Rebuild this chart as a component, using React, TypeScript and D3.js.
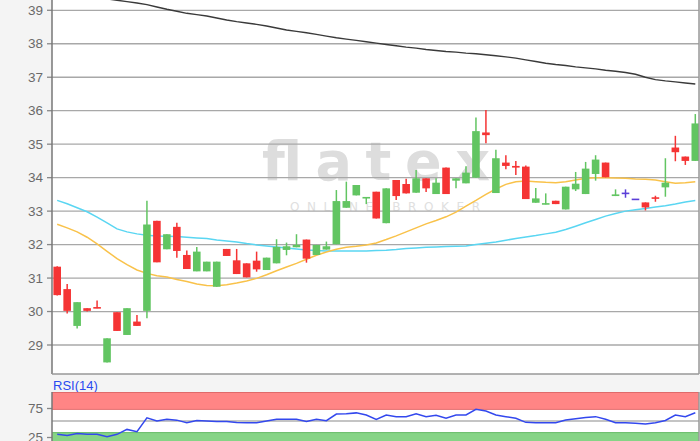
import React from 'react';
import * as d3 from 'd3';

// ---- Data ----
const opens = [31.34, 30.67, 29.57, 30.10, 30.12, 28.48, 29.98, 29.30, 29.70, 30.02,
  32.71, 31.86, 32.53, 31.69, 31.20, 31.20, 30.74, 31.87, 31.53, 31.44,
  31.52, 31.24, 31.44, 31.84, 31.92, 32.15, 31.69, 31.85, 32.01, 33.10,
  33.47, 33.38, 33.58, 32.64, 33.93, 33.81, 33.55, 33.98, 33.51, 34.30,
  33.91, 33.83, 34.00, 35.35, 33.54, 34.45, 34.35, 34.33, 33.25, 33.20,
  33.31, 33.05, 33.65, 33.51, 34.11, 34.45, 33.45, 33.53, 33.35, 33.26,
  33.40, 33.71, 34.90, 34.63, 34.50];
const highs = [31.35, 30.82, 30.28, 30.10, 30.33, 29.20, 29.98, 30.10, 29.90, 33.31,
  32.71, 32.31, 32.65, 31.82, 31.93, 31.49, 31.49, 31.87, 31.87, 31.44,
  31.79, 31.61, 32.16, 32.06, 32.31, 32.15, 31.99, 32.09, 33.63, 33.88,
  33.78, 33.42, 33.58, 33.68, 33.93, 33.97, 34.23, 33.98, 33.98, 34.30,
  33.98, 34.34, 35.80, 36.02, 34.83, 34.67, 34.50, 34.36, 33.69, 33.53,
  33.31, 33.73, 34.17, 34.47, 34.67, 34.45, 33.65, 33.65, 33.35, 33.26,
  33.46, 34.58, 35.25, 34.63, 35.90];
const lows = [30.48, 29.94, 29.49, 30.00, 30.10, 28.48, 29.42, 29.30, 29.57, 29.80,
  31.47, 31.86, 31.61, 31.27, 31.20, 31.20, 30.74, 31.66, 31.12, 31.02,
  31.19, 31.24, 31.44, 31.68, 31.92, 31.46, 31.69, 31.85, 32.01, 33.10,
  33.47, 33.21, 32.78, 32.64, 33.33, 33.53, 33.55, 33.57, 33.51, 33.51,
  33.68, 33.83, 34.00, 35.03, 33.54, 34.25, 34.08, 33.36, 33.25, 33.20,
  33.21, 33.05, 33.60, 33.51, 33.91, 34.01, 33.45, 33.40, 33.35, 33.02,
  33.28, 33.43, 34.49, 34.38, 34.50];
const closes = [30.49, 30.02, 30.28, 30.02, 30.10, 29.20, 29.42, 30.10, 29.57, 32.60,
  31.47, 32.31, 31.81, 31.27, 31.79, 31.49, 31.49, 31.66, 31.12, 31.02,
  31.26, 31.61, 31.93, 31.95, 31.99, 31.58, 31.99, 31.95, 33.30, 33.30,
  33.78, 33.42, 32.78, 33.68, 33.45, 33.53, 33.98, 33.68, 33.85, 33.51,
  33.98, 34.15, 35.39, 35.27, 34.58, 34.35, 34.30, 33.36, 33.38, 33.23,
  33.21, 33.73, 33.82, 34.27, 34.54, 34.01, 33.50, 33.53, 33.35, 33.11,
  33.38, 33.85, 34.76, 34.50, 35.62];

// cyan moving average
const maCyan = [33.32, 33.22, 33.10, 32.98, 32.82, 32.65, 32.47, 32.38, 32.32, 32.28,
  32.26, 32.25, 32.24, 32.22, 32.20, 32.18, 32.14, 32.11, 32.08, 32.03,
  31.99, 31.96, 31.93, 31.90, 31.87, 31.84, 31.82, 31.81, 31.81, 31.81,
  31.81, 31.81, 31.82, 31.83, 31.85, 31.88, 31.90, 31.92, 31.93, 31.94,
  31.95, 31.96, 32.00, 32.04, 32.08, 32.13, 32.18, 32.23, 32.27, 32.32,
  32.37, 32.45, 32.55, 32.65, 32.75, 32.85, 32.93, 33.00, 33.04, 33.08,
  33.12, 33.16, 33.21, 33.27, 33.32];
// orange moving average
const maOrange = [32.61, 32.50, 32.38, 32.22, 32.02, 31.80, 31.58, 31.40, 31.24, 31.14,
  31.07, 31.03, 30.96, 30.90, 30.82, 30.78, 30.77, 30.80, 30.85, 30.91,
  30.99, 31.10, 31.22, 31.33, 31.44, 31.56, 31.68, 31.78, 31.86, 31.92,
  31.95, 31.99, 32.05, 32.15, 32.26, 32.38, 32.50, 32.62, 32.72, 32.83,
  32.97, 33.15, 33.32, 33.50, 33.66, 33.80, 33.88, 33.90, 33.88, 33.86,
  33.85, 33.88, 33.93, 33.98, 34.00, 34.00, 33.99, 33.98, 33.96, 33.95,
  33.93, 33.88, 33.83, 33.85, 33.88];
// black long moving average, starts at index 4 (earlier part is above the visible range)
const maBlackStart = 4;
const maBlack = [39.38, 39.34, 39.30, 39.26, 39.22, 39.17,
  39.10, 39.03, 38.97, 38.91, 38.87, 38.83, 38.77, 38.71, 38.66, 38.62,
  38.58, 38.53, 38.47, 38.41, 38.37, 38.33, 38.28, 38.23, 38.18, 38.14,
  38.10, 38.06, 38.02, 37.98, 37.94, 37.90, 37.87, 37.83, 37.80, 37.77,
  37.75, 37.72, 37.70, 37.67, 37.64, 37.61, 37.57, 37.52, 37.47, 37.42,
  37.38, 37.35, 37.31, 37.28, 37.25, 37.21, 37.18, 37.14, 37.09, 37.00,
  36.93, 36.89, 36.86, 36.83, 36.80];
// RSI(14)
const rsi = [27, 25, 28.5, 27, 27, 23, 27, 35.5, 31.5, 55.5,
  50, 53, 51.5, 47, 51, 50, 49, 49, 47.5, 47,
  47, 50, 53, 53, 53, 49, 53, 50.5, 62, 62.5,
  64, 60.3, 52.9, 60.3, 57.5, 57.5, 62.6, 57.5, 59.8, 54.6,
  60.3, 60.3, 70.1, 67.2, 60.3, 57.5, 54.6, 47.7, 47, 47,
  47, 51.7, 54, 56, 57.5, 52.9, 47, 47, 46, 44.8,
  47, 51, 60.3, 57.5, 64.3];

const priceTicks = [29, 30, 31, 32, 33, 34, 35, 36, 37, 38, 39];
const rsiTicks = [25, 75];
const rsiLabel = 'RSI(14)';
const watermark = 'flatex';
const watermarkSub = 'ONLINE BROKER';

// ---- Layout ----
const W = 700;
const H = 441;
const left = 52;
const right = 699;
const mainBottom = 374;
const rsiTop = 392;
const font = '"Liberation Sans", Arial, sans-serif';

const GREEN = '#62c562';
const RED = '#f53434';
const PURPLE = '#5b3fd8';

export default function App() {
  const x = d3.scaleLinear().domain([0, 64]).range([57.2, 695.3]);
  const y = d3.scaleLinear().domain([29, 39]).range([345, 10.3]);
  const ry = d3.scaleLinear().domain([0, 100]).range([450, 392]);
  const bw = 7.6;

  const lineMain = d3.line<number>().x((_, i) => x(i)).y((d) => y(d));
  const lineBlack = d3.line<number>().x((_, i) => x(i + maBlackStart)).y((d) => y(d));
  const lineRsi = d3.line<number>().x((_, i) => x(i)).y((d) => ry(d));

  return (
    <svg width={W} height={H} style={{ position: 'absolute', left: 0, top: 0, display: 'block' }}
      xmlns="http://www.w3.org/2000/svg">
      <defs>
        <clipPath id="mainClip">
          <rect x={left} y={0} width={right - left} height={mainBottom} />
        </clipPath>
        <clipPath id="rsiClip">
          <rect x={left} y={rsiTop} width={right - left} height={H - rsiTop} />
        </clipPath>
      </defs>
      <rect x={0} y={0} width={W} height={H} fill="#f4f4f4" />
      {/* main plot background */}
      <rect x={left} y={0} width={right - left} height={mainBottom} fill="#ffffff" />

      {/* watermark */}
      <g fontFamily='"DejaVu Sans", sans-serif'>
        <text x={262} y={180} fontSize={54} fontWeight="bold" textLength={228} lengthAdjust="spacing"
          fill="#dddddd">{watermark}</text>
        <text x={290} y={211} fontSize={12} textLength={190} lengthAdjust="spacing" fill="#e0e0e0">{watermarkSub}</text>
      </g>

      {/* grid */}
      <g>
        {priceTicks.map((t) => (
          <g key={t}>
            <line x1={left} x2={right} y1={y(t)} y2={y(t)} stroke="#a8a8a8" strokeWidth={1.3} />
            <line x1={left - 5} x2={left} y1={y(t)} y2={y(t)} stroke="#888" strokeWidth={1.3} />
            <text x={43} y={y(t)} dy="0.35em" textAnchor="end" fontSize={13.5} fill="#6a6a6a"
              fontFamily={font}>{t}</text>
          </g>
        ))}
      </g>

      <g clipPath="url(#mainClip)">
        {/* moving averages */}
        <path d={lineBlack(maBlack) || ''} fill="none" stroke="#3a3a3a" strokeWidth={1.4} />
        <path d={lineMain(maCyan) || ''} fill="none" stroke="#5ad6f2" strokeWidth={1.5} />
        <path d={lineMain(maOrange) || ''} fill="none" stroke="#f9c24a" strokeWidth={1.5} />

        {/* candles */}
        {opens.map((o, i) => {
          const c = closes[i];
          const col = c > o ? GREEN : c < o ? RED : PURPLE;
          const cx = x(i);
          const top = y(Math.max(o, c));
          const bot = y(Math.min(o, c));
          const h = Math.max(bot - top, 1.6);
          return (
            <g key={i}>
              <line x1={cx} x2={cx} y1={y(highs[i])} y2={y(lows[i])} stroke={col} strokeWidth={1.5} />
              <rect x={cx - bw / 2} y={top - (h - (bot - top)) / 2} width={bw} height={h} fill={col} />
            </g>
          );
        })}
      </g>

      {/* main frame */}
      <line x1={left} x2={left} y1={0} y2={mainBottom} stroke="#777" strokeWidth={1.5} />
      <line x1={left} x2={right} y1={mainBottom} y2={mainBottom} stroke="#999" strokeWidth={1.5} />
      <line x1={right} x2={right} y1={0} y2={mainBottom} stroke="#999" strokeWidth={1.5} />

      {/* RSI panel */}
      <text x={53} y={389.5} fontSize={13} fill="#2a4af0" fontFamily={font}>{rsiLabel}</text>
      <rect x={left} y={rsiTop} width={right - left} height={H - rsiTop} fill="#ffffff" />
      <g clipPath="url(#rsiClip)">
        <rect x={left} y={ry(100)} width={right - left} height={ry(70) - ry(100)} fill="#ff8585" />
        <line x1={left} x2={right} y1={ry(100) + 0.5} y2={ry(100) + 0.5} stroke="#e06a6a" strokeWidth={1} />
        <line x1={left} x2={right} y1={ry(70)} y2={ry(70)} stroke="#e27272" strokeWidth={1} />
        <rect x={left} y={ry(30)} width={right - left} height={ry(0) - ry(30)} fill="#86d486" />
        <line x1={left} x2={right} y1={ry(30)} y2={ry(30)} stroke="#66bb66" strokeWidth={1} />
        <line x1={left} x2={right} y1={ry(50)} y2={ry(50)} stroke="#b0b0b0" strokeWidth={1.3} />
        <path d={lineRsi(rsi) || ''} fill="none" stroke="#3348ee" strokeWidth={1.5} />
      </g>
      {rsiTicks.map((t) => (
        <g key={t}>
          <line x1={left - 5} x2={left} y1={ry(t) + 2} y2={ry(t) + 2} stroke="#888" strokeWidth={1.3} />
          <text x={43} y={ry(t) + 2} dy="0.35em" textAnchor="end" fontSize={13.5} fill="#6a6a6a"
            fontFamily={font}>{t}</text>
        </g>
      ))}
      <line x1={left} x2={left} y1={rsiTop} y2={H} stroke="#777" strokeWidth={1.5} />
      <line x1={right} x2={right} y1={rsiTop} y2={H} stroke="#999" strokeWidth={1.5} />
    </svg>
  );
}
